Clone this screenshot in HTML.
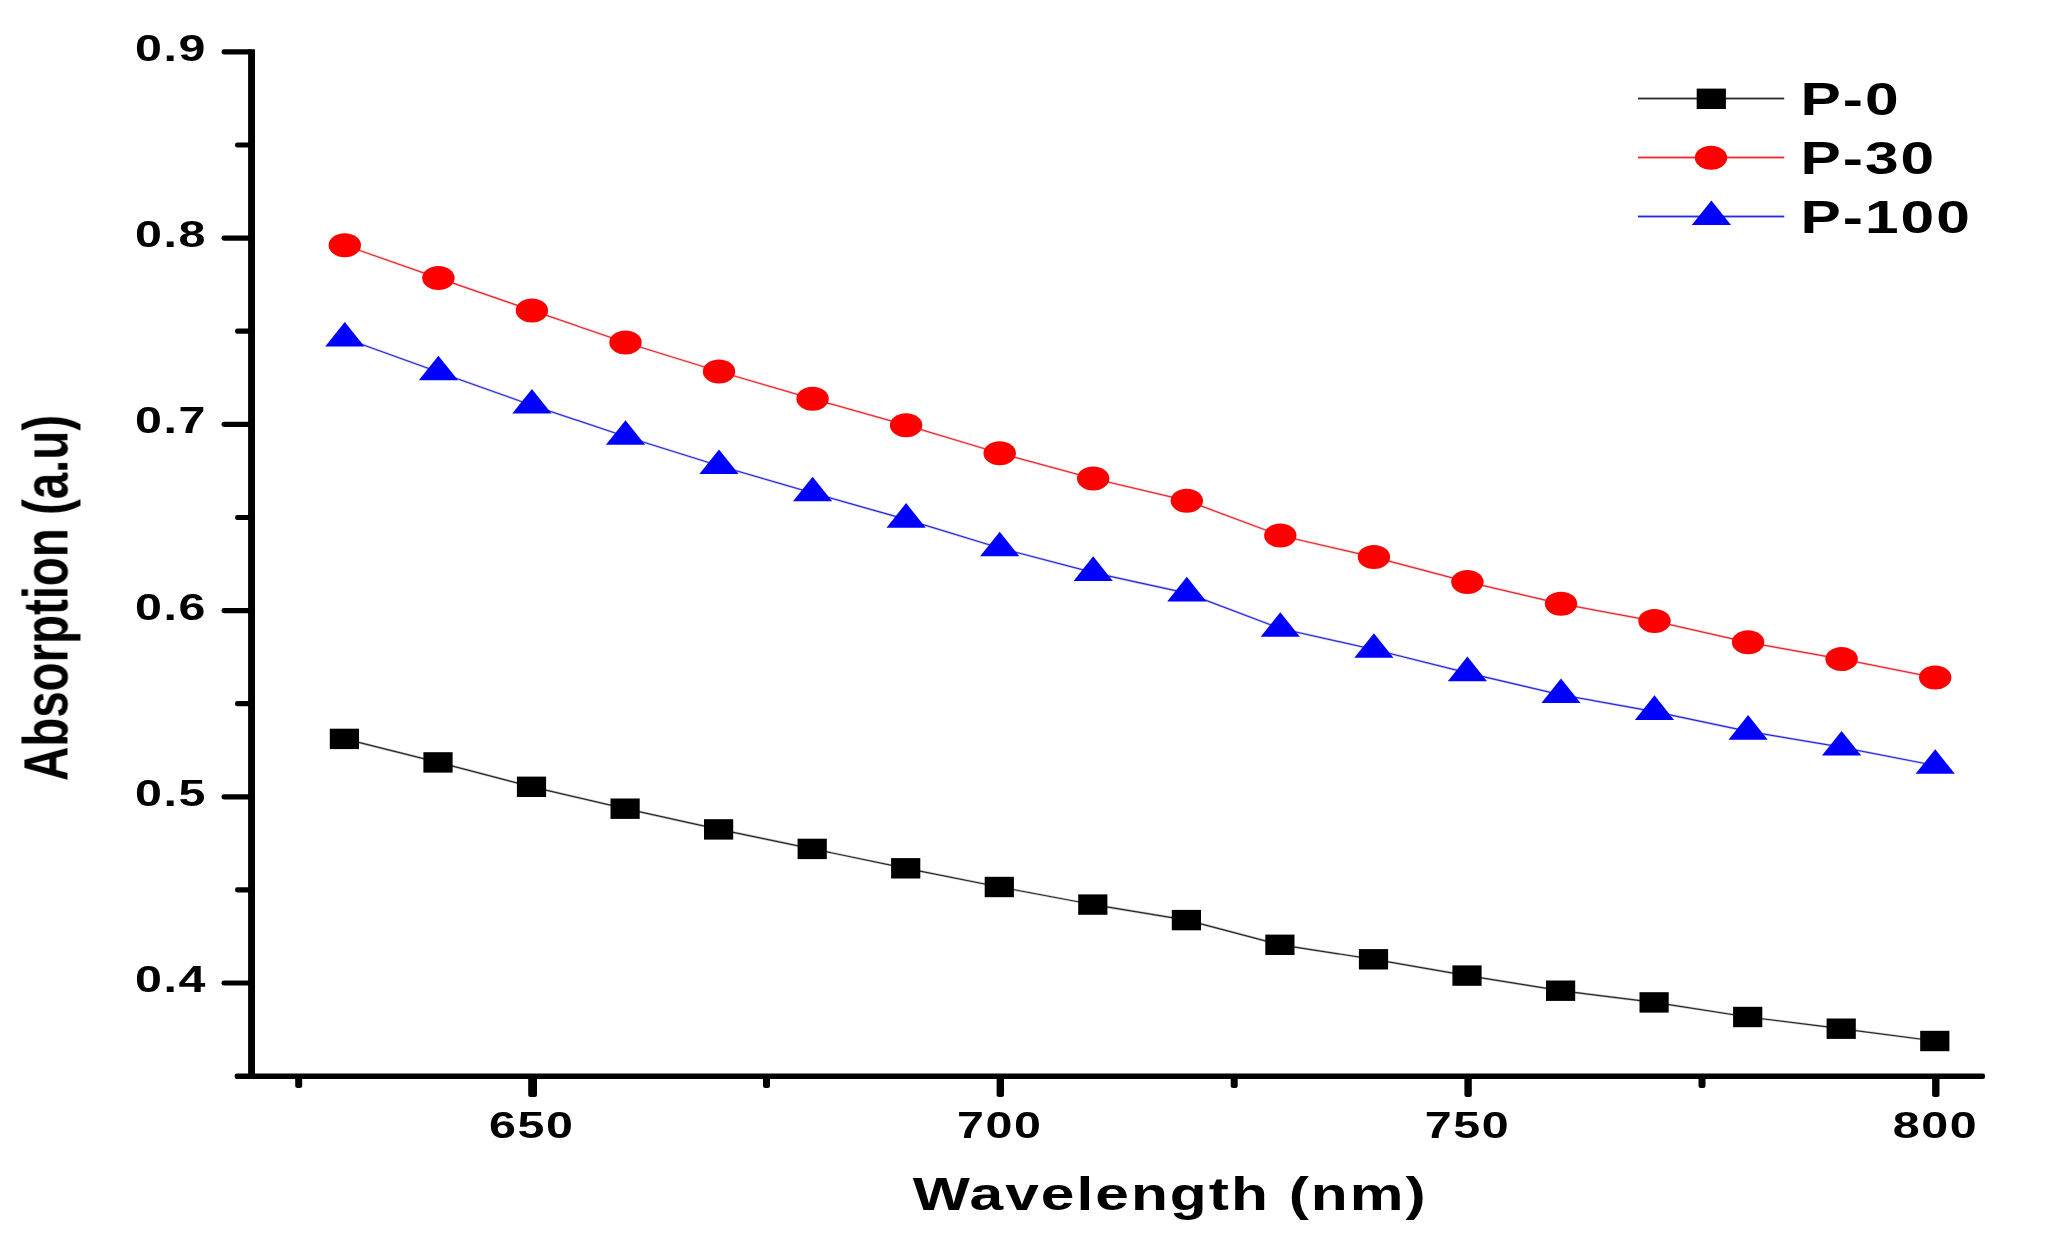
<!DOCTYPE html>
<html lang="en"><head><meta charset="utf-8"><title>Absorption vs Wavelength</title>
<style>html,body{margin:0;padding:0;background:#fff;}body{width:2046px;height:1253px;overflow:hidden;}svg{display:block;}text{font-family:"Liberation Sans",sans-serif;font-weight:bold;fill:#000;}</style></head><body>
<svg width="2046" height="1253" viewBox="0 0 2046 1253">
<rect width="2046" height="1253" fill="#fff"/>
<defs><filter id="soft" x="0" y="0" width="2046" height="1253" filterUnits="userSpaceOnUse"><feGaussianBlur stdDeviation="0.7"/></filter></defs>
<g filter="url(#soft)">
<g fill="#000">
<rect x="248.1" y="49.3" width="6.9" height="1029.5"/>
<rect x="234.7" y="1073.6" width="1750.3" height="5.3" rx="2"/>
<rect x="221.5" y="49.3" width="31" height="5.2" rx="2.4"/>
<rect x="221.5" y="235.5" width="31" height="5.2" rx="2.4"/>
<rect x="221.5" y="421.7" width="31" height="5.2" rx="2.4"/>
<rect x="221.5" y="608.0" width="31" height="5.2" rx="2.4"/>
<rect x="221.5" y="794.2" width="31" height="5.2" rx="2.4"/>
<rect x="221.5" y="980.4" width="31" height="5.2" rx="2.4"/>
<rect x="235" y="142.4" width="17.5" height="5.2" rx="2.4"/>
<rect x="235" y="328.6" width="17.5" height="5.2" rx="2.4"/>
<rect x="235" y="514.9" width="17.5" height="5.2" rx="2.4"/>
<rect x="235" y="701.1" width="17.5" height="5.2" rx="2.4"/>
<rect x="235" y="887.3" width="17.5" height="5.2" rx="2.4"/>
<rect x="528.2" y="1076" width="8.8" height="21" rx="2.5"/>
<rect x="996.6" y="1076" width="7.4" height="21" rx="2.5"/>
<rect x="1464.4" y="1076" width="7.4" height="21" rx="2.5"/>
<rect x="1932.1" y="1076" width="7.4" height="21" rx="2.5"/>
<rect x="295.2" y="1076" width="7" height="12" rx="2.5"/>
<rect x="763.0" y="1076" width="7" height="12" rx="2.5"/>
<rect x="1230.7" y="1076" width="7" height="12" rx="2.5"/>
<rect x="1698.5" y="1076" width="7" height="12" rx="2.5"/>
</g>
<text transform="translate(207.0,60.8) scale(1.33,1)" font-size="36.4" letter-spacing="1.2" text-anchor="end">0.9</text>
<text transform="translate(207.0,247.0) scale(1.33,1)" font-size="36.4" letter-spacing="1.2" text-anchor="end">0.8</text>
<text transform="translate(207.0,433.2) scale(1.33,1)" font-size="36.4" letter-spacing="1.2" text-anchor="end">0.7</text>
<text transform="translate(207.0,619.5) scale(1.33,1)" font-size="36.4" letter-spacing="1.2" text-anchor="end">0.6</text>
<text transform="translate(207.0,805.7) scale(1.33,1)" font-size="36.4" letter-spacing="1.2" text-anchor="end">0.5</text>
<text transform="translate(207.0,991.9) scale(1.33,1)" font-size="36.4" letter-spacing="1.2" text-anchor="end">0.4</text>
<text transform="translate(531.8,1138.0) scale(1.33,1)" font-size="36.4" letter-spacing="1.2" text-anchor="middle">650</text>
<text transform="translate(999.7,1138.0) scale(1.33,1)" font-size="36.4" letter-spacing="1.2" text-anchor="middle">700</text>
<text transform="translate(1467.6,1138.0) scale(1.33,1)" font-size="36.4" letter-spacing="1.2" text-anchor="middle">750</text>
<text transform="translate(1935.5,1138.0) scale(1.33,1)" font-size="36.4" letter-spacing="1.2" text-anchor="middle">800</text>
<text transform="translate(1170.2,1210.4) scale(1.33,1)" font-size="45.5" letter-spacing="1.5" text-anchor="middle">Wavelength (nm)</text>
<text transform="translate(67,597.9) scale(1.344,1) rotate(-90)" font-size="47.4" text-anchor="middle">Absorption (a.u)</text>
</g>
<polyline points="344.8,738.9 438.4,762.4 531.9,786.8 625.5,808.7 719.0,829.4 812.6,848.9 906.1,868.3 999.7,887.0 1093.2,904.6 1186.8,920.1 1280.3,944.8 1373.9,959.3 1467.4,975.6 1561.0,990.7 1654.5,1002.4 1748.1,1017.0 1841.6,1028.7 1935.2,1041.0" fill="none" stroke="#262626" stroke-width="2.64" stroke-opacity="0.22"/><polyline points="344.8,738.9 438.4,762.4 531.9,786.8 625.5,808.7 719.0,829.4 812.6,848.9 906.1,868.3 999.7,887.0 1093.2,904.6 1186.8,920.1 1280.3,944.8 1373.9,959.3 1467.4,975.6 1561.0,990.7 1654.5,1002.4 1748.1,1017.0 1841.6,1028.7 1935.2,1041.0" fill="none" stroke="#262626" stroke-width="1.2"/>
<polyline points="344.8,245.2 438.4,278.1 531.9,310.4 625.5,342.5 719.0,371.5 812.6,398.8 906.1,425.2 999.7,453.2 1093.2,478.5 1186.8,500.7 1280.3,535.5 1373.9,557.1 1467.4,581.9 1561.0,603.8 1654.5,621.1 1748.1,642.3 1841.6,659.1 1935.2,677.6" fill="none" stroke="#e82830" stroke-width="2.64" stroke-opacity="0.22"/><polyline points="344.8,245.2 438.4,278.1 531.9,310.4 625.5,342.5 719.0,371.5 812.6,398.8 906.1,425.2 999.7,453.2 1093.2,478.5 1186.8,500.7 1280.3,535.5 1373.9,557.1 1467.4,581.9 1561.0,603.8 1654.5,621.1 1748.1,642.3 1841.6,659.1 1935.2,677.6" fill="none" stroke="#e82830" stroke-width="1.2"/>
<polyline points="344.8,338.3 438.4,372.0 531.9,405.2 625.5,436.5 719.0,465.7 812.6,493.0 906.1,519.4 999.7,548.0 1093.2,572.6 1186.8,593.1 1280.3,628.5 1373.9,649.5 1467.4,672.9 1561.0,694.8 1654.5,711.6 1748.1,731.4 1841.6,747.2 1935.2,765.5" fill="none" stroke="#2828d8" stroke-width="2.64" stroke-opacity="0.22"/><polyline points="344.8,338.3 438.4,372.0 531.9,405.2 625.5,436.5 719.0,465.7 812.6,493.0 906.1,519.4 999.7,548.0 1093.2,572.6 1186.8,593.1 1280.3,628.5 1373.9,649.5 1467.4,672.9 1561.0,694.8 1654.5,711.6 1748.1,731.4 1841.6,747.2 1935.2,765.5" fill="none" stroke="#2828d8" stroke-width="1.2"/>
<g filter="url(#soft)">
<rect x="329.8" y="728.7" width="29.2" height="20.4" fill="#000"/>
<rect x="423.4" y="752.2" width="29.2" height="20.4" fill="#000"/>
<rect x="516.9" y="776.6" width="29.2" height="20.4" fill="#000"/>
<rect x="610.5" y="798.5" width="29.2" height="20.4" fill="#000"/>
<rect x="704.0" y="819.2" width="29.2" height="20.4" fill="#000"/>
<rect x="797.6" y="838.7" width="29.2" height="20.4" fill="#000"/>
<rect x="891.1" y="858.1" width="29.2" height="20.4" fill="#000"/>
<rect x="984.7" y="876.8" width="29.2" height="20.4" fill="#000"/>
<rect x="1078.2" y="894.4" width="29.2" height="20.4" fill="#000"/>
<rect x="1171.8" y="909.9" width="29.2" height="20.4" fill="#000"/>
<rect x="1265.3" y="934.6" width="29.2" height="20.4" fill="#000"/>
<rect x="1358.9" y="949.1" width="29.2" height="20.4" fill="#000"/>
<rect x="1452.4" y="965.4" width="29.2" height="20.4" fill="#000"/>
<rect x="1546.0" y="980.5" width="29.2" height="20.4" fill="#000"/>
<rect x="1639.5" y="992.2" width="29.2" height="20.4" fill="#000"/>
<rect x="1733.1" y="1006.8" width="29.2" height="20.4" fill="#000"/>
<rect x="1826.6" y="1018.5" width="29.2" height="20.4" fill="#000"/>
<rect x="1920.2" y="1030.8" width="29.2" height="20.4" fill="#000"/>
<ellipse cx="344.8" cy="245.2" rx="16.2" ry="12" fill="#ff0000"/>
<ellipse cx="438.4" cy="278.1" rx="16.2" ry="12" fill="#ff0000"/>
<ellipse cx="531.9" cy="310.4" rx="16.2" ry="12" fill="#ff0000"/>
<ellipse cx="625.5" cy="342.5" rx="16.2" ry="12" fill="#ff0000"/>
<ellipse cx="719.0" cy="371.5" rx="16.2" ry="12" fill="#ff0000"/>
<ellipse cx="812.6" cy="398.8" rx="16.2" ry="12" fill="#ff0000"/>
<ellipse cx="906.1" cy="425.2" rx="16.2" ry="12" fill="#ff0000"/>
<ellipse cx="999.7" cy="453.2" rx="16.2" ry="12" fill="#ff0000"/>
<ellipse cx="1093.2" cy="478.5" rx="16.2" ry="12" fill="#ff0000"/>
<ellipse cx="1186.8" cy="500.7" rx="16.2" ry="12" fill="#ff0000"/>
<ellipse cx="1280.3" cy="535.5" rx="16.2" ry="12" fill="#ff0000"/>
<ellipse cx="1373.9" cy="557.1" rx="16.2" ry="12" fill="#ff0000"/>
<ellipse cx="1467.4" cy="581.9" rx="16.2" ry="12" fill="#ff0000"/>
<ellipse cx="1561.0" cy="603.8" rx="16.2" ry="12" fill="#ff0000"/>
<ellipse cx="1654.5" cy="621.1" rx="16.2" ry="12" fill="#ff0000"/>
<ellipse cx="1748.1" cy="642.3" rx="16.2" ry="12" fill="#ff0000"/>
<ellipse cx="1841.6" cy="659.1" rx="16.2" ry="12" fill="#ff0000"/>
<ellipse cx="1935.2" cy="677.6" rx="16.2" ry="12" fill="#ff0000"/>
<polygon points="344.8,322.0 325.2,346.6 364.4,346.6" fill="#0000ff"/>
<polygon points="438.4,355.7 418.8,380.3 458.0,380.3" fill="#0000ff"/>
<polygon points="531.9,388.9 512.3,413.5 551.5,413.5" fill="#0000ff"/>
<polygon points="625.5,420.2 605.9,444.8 645.1,444.8" fill="#0000ff"/>
<polygon points="719.0,449.4 699.4,474.0 738.6,474.0" fill="#0000ff"/>
<polygon points="812.6,476.7 793.0,501.3 832.2,501.3" fill="#0000ff"/>
<polygon points="906.1,503.1 886.5,527.7 925.7,527.7" fill="#0000ff"/>
<polygon points="999.7,531.7 980.1,556.3 1019.3,556.3" fill="#0000ff"/>
<polygon points="1093.2,556.3 1073.6,580.9 1112.8,580.9" fill="#0000ff"/>
<polygon points="1186.8,576.8 1167.2,601.4 1206.4,601.4" fill="#0000ff"/>
<polygon points="1280.3,612.2 1260.7,636.8 1299.9,636.8" fill="#0000ff"/>
<polygon points="1373.9,633.2 1354.3,657.8 1393.5,657.8" fill="#0000ff"/>
<polygon points="1467.4,656.6 1447.8,681.2 1487.0,681.2" fill="#0000ff"/>
<polygon points="1561.0,678.5 1541.4,703.1 1580.6,703.1" fill="#0000ff"/>
<polygon points="1654.5,695.3 1634.9,719.9 1674.1,719.9" fill="#0000ff"/>
<polygon points="1748.1,715.1 1728.5,739.7 1767.7,739.7" fill="#0000ff"/>
<polygon points="1841.6,730.9 1822.0,755.5 1861.2,755.5" fill="#0000ff"/>
<polygon points="1935.2,749.2 1915.6,773.8 1954.8,773.8" fill="#0000ff"/>
</g>
<line x1="1638" y1="98.5" x2="1784.2" y2="98.5" stroke="#2e2e2e" stroke-width="3" stroke-opacity="0.22"/>
<line x1="1638" y1="98.5" x2="1784.2" y2="98.5" stroke="#2e2e2e" stroke-width="1.4"/>
<line x1="1638" y1="157.5" x2="1784.2" y2="157.5" stroke="#f02830" stroke-width="3" stroke-opacity="0.22"/>
<line x1="1638" y1="157.5" x2="1784.2" y2="157.5" stroke="#f02830" stroke-width="1.4"/>
<line x1="1638" y1="216.5" x2="1784.2" y2="216.5" stroke="#2828e0" stroke-width="3" stroke-opacity="0.22"/>
<line x1="1638" y1="216.5" x2="1784.2" y2="216.5" stroke="#2828e0" stroke-width="1.4"/>
<g filter="url(#soft)">
<rect x="1696.7" y="88.6" width="29.2" height="20.4" fill="#000"/>
<ellipse cx="1711.0" cy="157.7" rx="16.2" ry="12" fill="#ff0000"/>
<polygon points="1711.4,200.4 1691.8,225.0 1731.0,225.0" fill="#0000ff"/>
<text transform="translate(1800.5,115.0) scale(1.33,1)" font-size="45.5" letter-spacing="1.5" text-anchor="start">P-0</text>
<text transform="translate(1800.5,174.0) scale(1.33,1)" font-size="45.5" letter-spacing="1.5" text-anchor="start">P-30</text>
<text transform="translate(1800.5,233.0) scale(1.33,1)" font-size="45.5" letter-spacing="1.5" text-anchor="start">P-100</text>
</g>
</svg></body></html>
